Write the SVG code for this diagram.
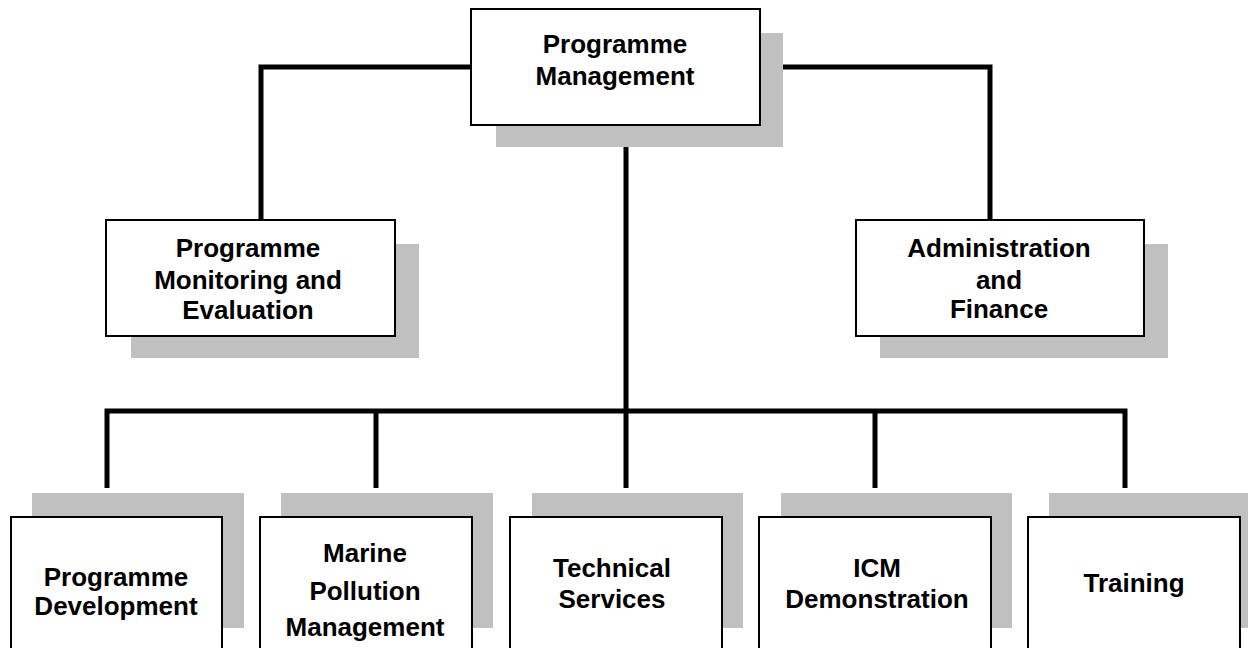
<svg xmlns="http://www.w3.org/2000/svg" width="1248" height="648" viewBox="0 0 1248 648">
<style>
.shadow{fill:#c0c0c0;stroke:none}
.box{fill:#ffffff;stroke:#000000;stroke-width:2}
.lbl{font-family:"Liberation Sans",Arial,sans-serif;font-weight:bold;font-size:26px;fill:#000000;text-anchor:middle}
.conn{fill:none;stroke:#000000;stroke-width:5;stroke-linejoin:miter;stroke-linecap:butt}
</style>
<rect x="0" y="0" width="1248" height="648" fill="#ffffff"/>
<g id="connectors">
<path class="conn" d="M261,220 V67 H471"/>
<path class="conn" d="M760,67 H990 V220"/>
<path class="conn" d="M626,146 V488"/>
<path class="conn" d="M107,488 V411 H1125 V488"/>
<path class="conn" d="M376,411 V488"/>
<path class="conn" d="M875,411 V488"/>
</g>
<g id="node-programme-management">
<rect class="shadow" x="496" y="33" width="287" height="114"/>
<rect class="box" x="471" y="9" width="289" height="116"/>
<text class="lbl" x="615" y="53">Programme</text>
<text class="lbl" x="615" y="85">Management</text>
</g>
<g id="node-monitoring">
<rect class="shadow" x="131" y="244" width="288" height="114"/>
<rect class="box" x="106" y="220" width="289" height="116"/>
<text class="lbl" x="248" y="257">Programme</text>
<text class="lbl" x="248" y="289">Monitoring and</text>
<text class="lbl" x="248" y="319">Evaluation</text>
</g>
<g id="node-admin-finance">
<rect class="shadow" x="880" y="244" width="288" height="114"/>
<rect class="box" x="856" y="220" width="288" height="116"/>
<text class="lbl" x="999" y="257">Administration</text>
<text class="lbl" x="999" y="289">and</text>
<text class="lbl" x="999" y="318">Finance</text>
</g>
<g id="node-programme-development">
<rect class="shadow" x="32" y="493" width="212" height="135"/>
<rect class="box" x="11" y="517" width="211" height="150"/>
<text class="lbl" x="116" y="586">Programme</text>
<text class="lbl" x="116" y="615">Development</text>
</g>
<g id="node-marine-pollution">
<rect class="shadow" x="281" y="493" width="212" height="135"/>
<rect class="box" x="260" y="517" width="212" height="150"/>
<text class="lbl" x="365" y="562">Marine</text>
<text class="lbl" x="365" y="600">Pollution</text>
<text class="lbl" x="365" y="636">Management</text>
</g>
<g id="node-technical-services">
<rect class="shadow" x="532" y="493" width="211" height="135"/>
<rect class="box" x="510" y="517" width="212" height="150"/>
<text class="lbl" x="612" y="577">Technical</text>
<text class="lbl" x="612" y="608">Services</text>
</g>
<g id="node-icm-demonstration">
<rect class="shadow" x="781" y="493" width="231" height="135"/>
<rect class="box" x="759" y="517" width="232" height="150"/>
<text class="lbl" x="877" y="577">ICM</text>
<text class="lbl" x="877" y="608">Demonstration</text>
</g>
<g id="node-training">
<rect class="shadow" x="1049" y="493" width="212" height="135"/>
<rect class="box" x="1028" y="517" width="212" height="150"/>
<text class="lbl" x="1134" y="592">Training</text>
</g>
</svg>
